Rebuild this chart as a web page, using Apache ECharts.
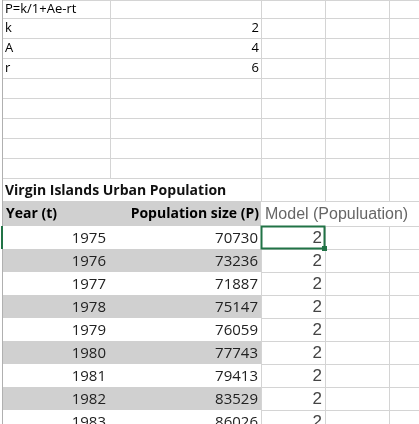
<!DOCTYPE html><html><head><meta charset="utf-8">
<script src="https://cdn.jsdelivr.net/npm/echarts@6/dist/echarts.min.js"></script>
<style>html,body{margin:0;padding:0;background:#fff}#c{width:419px;height:424px}</style></head><body><div id="c"></div>
<script>
const paramLabels=['k','A','r'];
const paramValues=[2,4,6];
const formula='P=k/1+Ae-rt';
const title='Virgin Islands Urban Population';
const headers=['Year (t)','Population size (P)','Model (Populuation)'];
const years=[1975,1976,1977,1978,1979,1980,1981,1982,1983];
const population=[70730,73236,71887,75147,76059,77743,79413,83529,86026];
const model=[2,2,2,2,2,2,2,2,2];

const F='"Open Sans","Noto Sans",sans-serif';
const topRows=[0,18,38,58,78,98,118,138,158,178];
const G='#d4d4d4';
const els=[];
function line(x1,y1,x2,y2,c,w){els.push({type:'line',shape:{x1,y1,x2,y2},style:{stroke:c||G,lineWidth:w||1}});}
function rect(x,y,w,h,f){els.push({type:'rect',shape:{x,y,width:w,height:h},style:{fill:f}});}
function text(x,y,t,o){els.push({type:'text',x,y,style:Object.assign({text:String(t),font:'13px '+F,fill:'#000',verticalAlign:'middle'},o||{})});}
topRows.forEach(y=>line(2,y+0.5,419,y+0.5));
[110,261,325,389].forEach(x=>line(x+0.5,0,x+0.5,179));
text(5,9,formula,{font:'13px '+F});
paramLabels.forEach((l,i)=>{const y=(topRows[i+1]+topRows[i+2])/2;text(5,y,l,{font:'13px '+F});text(259,y,paramValues[i],{align:'right',font:'13px '+F});});
line(261.5,179,261.5,201);line(325.5,179,325.5,201);line(389.5,179,389.5,201);
line(261,201.5,419,201.5);
text(5,191,title,{font:'bold 14px '+F,fill:'#111'});
rect(2,201,259,25,'#d0d0d0');
text(6,214,headers[0],{font:'bold 14px '+F});
text(259,214,headers[1],{font:'bold 14px '+F,align:'right'});
text(265,215,headers[2],{font:'16px "Liberation Sans",sans-serif',fill:'#666'});
const rowH=23,r0=226;
years.forEach((yr,i)=>{const y=r0+i*rowH;if(i%2===1)rect(2,y,259,rowH,'#d0d0d0');
 line(261,y+0.5,419,y+0.5);
 const cy=y+rowH/2+1;
 text(106,cy,yr,{align:'right',font:'15px '+F,fill:'#222'});
 text(258,cy,population[i],{align:'right',font:'15px '+F,fill:'#222'});
 text(322,cy,model[i],{align:'right',font:'17px "Liberation Sans",sans-serif',fill:'#444'});
});
[325.5,389.5].forEach(x=>line(x,226,x,424));
line(261.5,226,261.5,424);
line(2.5,0,2.5,424,'#b0b0b0');
els.push({type:'rect',shape:{x:261.5,y:226.5,width:63,height:22},style:{fill:'none',stroke:'#217346',lineWidth:2}});
rect(322,246,5,5,'#217346');
line(2,226,2,249,'#217346',2);
const ch=echarts.init(document.getElementById('c'));
ch.setOption({animation:false,graphic:{elements:els}});
</script></body></html>
